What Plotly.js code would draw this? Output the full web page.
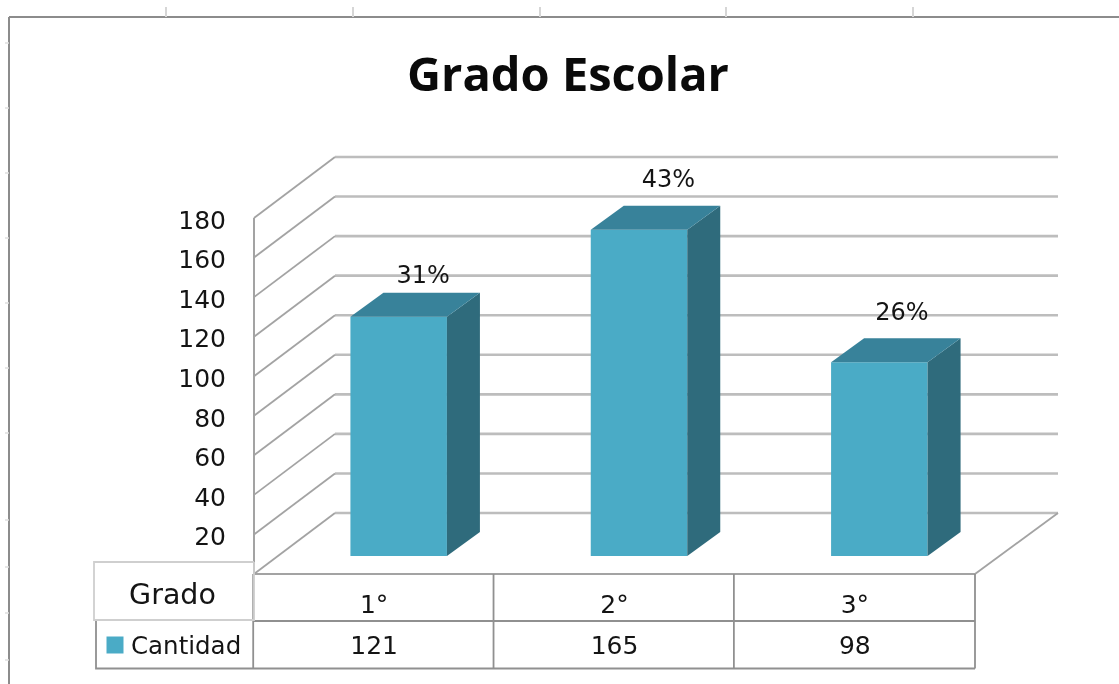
<!DOCTYPE html>
<html><head><meta charset="utf-8">
<script src="https://cdn.plot.ly/plotly-3.0.1.min.js"></script>
<style>html,body{margin:0;padding:0;background:#fff}#chart{width:1119px;height:684px;filter:blur(0.45px)}</style>
</head><body><div id="chart"></div>
<script>
const categories = ['1°','2°','3°'];
const cantidad = [121,165,98];
const percentLabels = ['31%','43%','26%'];
const yTicks = [20,40,60,80,100,120,140,160,180];
const seriesName = 'Cantidad';
const rowTitle = 'Grado';
const chartTitle = 'Grado Escolar';

// geometry: front plane of the 3D box in pixels and px->data converters
const W=1119,H=684,L=254,R=975,T=218,B=574;
const ux=(R-L)/3, uy=(B-T)/180;
const dx=p=>p/ux, dy=p=>p/uy;
const wallX=81, wallY=61, wallEnd=83, barOff=24.5, barLift=18, barW=96.5, barDX=33, barDY=24;
const cFront='#4aabc6', cSide='#2f6b7c', cTop='#38829a', cGrid='#bdbdbd', cWall='#a3a3a3', cTable='#909090', cText='#141414';
const FONT='"DejaVu Sans", sans-serif';

const xL=-0.5, xR=2.5;
const fullX=[xL-dx(L),xR+dx(W-R)], fullY=[-dy(H-B),180+dy(T)];
const traces=[];
const line=(xs,ys,color,width)=>traces.push({type:'scatter',mode:'lines',x:xs,y:ys,line:{color,width},hoverinfo:'skip',showlegend:false});

// back wall gridlines and side wall
[0].concat(yTicks).forEach(v=>{
  line([xL+dx(wallX),xR+dx(wallEnd)],[v+dy(wallY),v+dy(wallY)],cGrid,2.6);
  line([xL,xL+dx(wallX)],[v,v+dy(wallY)],cWall,1.8);
});
// side wall front edge, front floor edge, floor right edge
line([xL,xL],[0,180],cWall,2);
line([xL,xR],[0,0],cWall,2.2);
line([xR,xR+dx(wallEnd)],[0,dy(wallY)],cWall,1.8);
// data table grid
const r1=dy(47), r2=dy(94.5);
line([xL,xR],[-r1,-r1],cTable,1.8);
line([xL,xR],[-r2,-r2],cTable,1.8);
[0,1,2].forEach(i=>line([xL+i-dx(0.8),xL+i-dx(0.8)],[0,-r2],cTable,1.8));
line([xR,xR],[0,-r2],cTable,1.8);
// legend cell + row-title cell
line([xL-dx(158),xL-dx(158),xL],[-r1,-r2,-r2],cTable,1.8);
line([xL,xL-dx(160),xL-dx(160),xL,xL],[dy(12),dy(12),-r1+dy(1),-r1+dy(1),dy(12)],'#cfcfcf',1.8);
// legend swatch
traces.push({type:'scatter',mode:'markers',x:[xL-dx(139)],y:[-dy(71)],marker:{symbol:'square',size:17,color:cFront},hoverinfo:'skip',showlegend:false});
// table text
const tbl=(xs,ys,text,size,pos)=>traces.push({type:'scatter',mode:'text',x:xs,y:ys,text,textposition:pos||'middle center',textfont:{family:FONT,size,color:cText},hoverinfo:'skip',showlegend:false});
tbl(categories.map((_,i)=>i),categories.map(()=>-dy(74)),cantidad.map(String),25);
tbl([xL-dx(81.5)],[-dy(23)],[rowTitle],28.5);
tbl([xL-dx(123)],[-dy(74)],[seriesName],24.5,'middle right');

// overlay: bars
const bx=categories.map((_,i)=>i+dx(barOff));
const base=dy(barLift);
traces.push({type:'bar',xaxis:'x2',yaxis:'y2',x:bx,y:cantidad,base:cantidad.map(()=>base),width:dx(barW),
  marker:{color:cFront,line:{width:0}},hoverinfo:'skip',showlegend:false,name:seriesName});
cantidad.forEach((v,i)=>{
  const x0=bx[i]-dx(barW)/2, x1=bx[i]+dx(barW)/2, b=base, t=v+b, ox=dx(barDX), oy=dy(barDY);
  traces.push({type:'scatter',mode:'lines',xaxis:'x2',yaxis:'y2',x:[x1,x1+ox,x1+ox,x1,x1],y:[b,b+oy,t+oy,t,b],fill:'toself',fillcolor:cSide,line:{width:0,color:cSide},hoverinfo:'skip',showlegend:false});
  traces.push({type:'scatter',mode:'lines',xaxis:'x2',yaxis:'y2',x:[x0,x0+ox,x1+ox,x1,x0],y:[t,t+oy,t+oy,t,t],fill:'toself',fillcolor:cTop,line:{width:0,color:cTop},hoverinfo:'skip',showlegend:false});
});
// percent labels
const pctX=[49,54,47], pctY=[57.7,66.7,66];
traces.push({type:'scatter',mode:'text',xaxis:'x2',yaxis:'y2',x:categories.map((_,i)=>i+dx(pctX[i])),y:cantidad.map((v,i)=>v+dy(pctY[i])),text:percentLabels,textposition:'middle center',textfont:{family:FONT,size:24,color:cText},hoverinfo:'skip',showlegend:false});

// frame and ruler ticks (page furniture), in page pixels
const shapes=[];
const seg=(x0,y0,x1,y1,color,width)=>shapes.push({type:'line',xref:'paper',yref:'paper',x0:x0/W,x1:x1/W,y0:1-y0/H,y1:1-y1/H,line:{color,width},layer:'below'});
seg(9,17,1119,17,'#8c8c8c',2);
seg(9,17,9,684,'#8c8c8c',2);
[166,353,540,726,913].forEach(x=>seg(x,7,x,17,'#d6d6d6',2));
[43,108,173,238,303,368,433,520,567,613,660].forEach(y=>seg(5,y,9,y,'#dedede',1.5));

const layout={
  width:W,height:H,autosize:false,showlegend:false,paper_bgcolor:'#fff',plot_bgcolor:'rgba(0,0,0,0)',
  margin:{l:0,r:0,t:0,b:0,pad:0},barmode:'overlay',
  title:{text:'<b>'+chartTitle+'</b>',x:568/W,xref:'container',xanchor:'center',y:1-75/H,yref:'container',yanchor:'middle',font:{family:'"Open Sans", sans-serif',size:47,color:'#0a0a0a'}},
  xaxis:{range:fullX,anchor:'free',position:(H-B)/H,tickmode:'array',tickvals:[0,1,2],ticktext:categories,ticks:'outside',ticklen:8,tickcolor:'rgba(0,0,0,0)',showgrid:false,zeroline:false,showline:false,tickfont:{family:FONT,size:25,color:cText}},
  yaxis:{range:fullY,anchor:'free',position:L/W,tickmode:'array',tickvals:yTicks,ticks:'outside',ticklen:23,ticklabelshift:2,tickcolor:'rgba(0,0,0,0)',showgrid:false,zeroline:false,showline:false,tickfont:{family:FONT,size:25,color:cText}},
  xaxis2:{range:fullX,overlaying:'x',visible:false,fixedrange:true},
  yaxis2:{range:fullY,overlaying:'y',visible:false,fixedrange:true},
  shapes
};
Plotly.newPlot('chart',traces,layout,{displayModeBar:false,staticPlot:true});
</script></body></html>
